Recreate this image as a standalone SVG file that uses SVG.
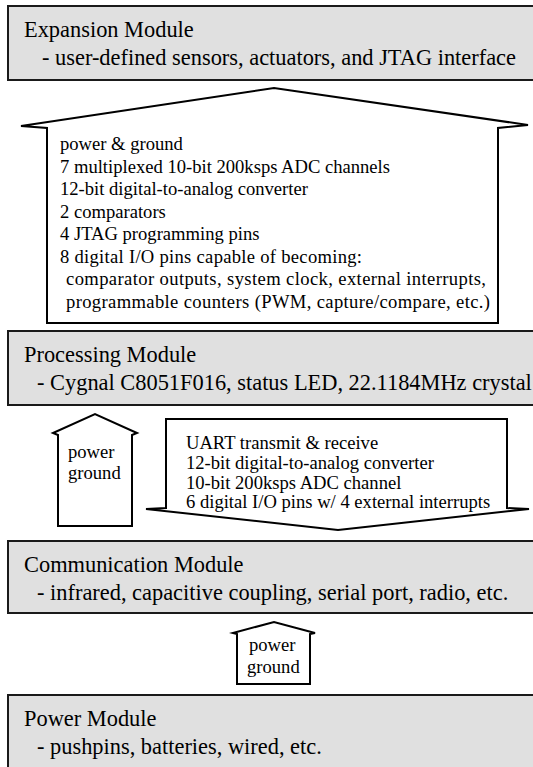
<svg xmlns="http://www.w3.org/2000/svg" width="533" height="767" viewBox="0 0 533 767">
<style>
.mod{fill:#e0e0e0;stroke:#1a1a1a;stroke-width:2}
.arr{fill:#ffffff;stroke:#000;stroke-width:2;stroke-linejoin:miter}
.mt{font-family:"Liberation Serif","Times New Roman",serif;font-size:22.4px;fill:#000}
.at{font-family:"Liberation Serif","Times New Roman",serif;font-size:18.6px;fill:#000}
</style>
<rect width="533" height="767" fill="#ffffff"/>
<g id="connectors">
<g id="bus-expansion">
<polygon class="arr" points="47,323 47,128 21,126 274,88 528,125 498,128 498,323"/>
<text class="at" x="60" y="150">power &amp; ground</text>
<text class="at" x="60" y="172.5">7 multiplexed 10-bit 200ksps ADC channels</text>
<text class="at" x="60" y="195">12-bit digital-to-analog converter</text>
<text class="at" x="60" y="217.5">2 comparators</text>
<text class="at" x="60" y="240">4 JTAG programming pins</text>
<text class="at" x="60" y="262.5" textLength="302" lengthAdjust="spacing">8 digital I/O pins capable of becoming:</text>
<text class="at" x="66" y="285" textLength="420" lengthAdjust="spacing">comparator outputs, system clock, external interrupts,</text>
<text class="at" x="66" y="307.5" textLength="424" lengthAdjust="spacing">programmable counters (PWM, capture/compare, etc.)</text>
</g>
<g id="power-to-processing">
<polygon class="arr" points="58,526 58,435 53,433 95,414 137,433 132,435 132,526"/>
<text class="at" x="68" y="458">power</text>
<text class="at" x="68" y="479">ground</text>
</g>
<g id="bus-communication">
<polygon class="arr" points="166,419 507,419 507,508 529,509 338,530 146,509 166,508"/>
<text class="at" x="186" y="449">UART transmit &amp; receive</text>
<text class="at" x="186" y="469">12-bit digital-to-analog converter</text>
<text class="at" x="186" y="488.5">10-bit 200ksps ADC channel</text>
<text class="at" x="186" y="508">6 digital I/O pins w/ 4 external interrupts</text>
</g>
<g id="power-to-communication">
<polygon class="arr" points="237,684 237,634 233,633 274,622 315,633 310,634 310,684"/>
<text class="at" x="249" y="651">power</text>
<text class="at" x="247" y="673">ground</text>
</g>
</g>
<g id="expansion-module">
<rect class="mod" x="8" y="6" width="540" height="74"/>
<text class="mt" x="24" y="37">Expansion Module</text>
<text class="mt" x="42" y="65">- user-defined sensors, actuators, and JTAG interface</text>
</g>
<g id="processing-module">
<rect class="mod" x="8" y="331" width="540" height="74"/>
<text class="mt" x="24" y="362">Processing Module</text>
<text class="mt" x="37" y="390">- Cygnal C8051F016, status LED, 22.1184MHz crystal</text>
</g>
<g id="communication-module">
<rect class="mod" x="8" y="541" width="540" height="72"/>
<text class="mt" x="24" y="572">Communication Module</text>
<text class="mt" x="37" y="600">- infrared, capacitive coupling, serial port, radio, etc.</text>
</g>
<g id="power-module">
<rect class="mod" x="8" y="695" width="540" height="80"/>
<text class="mt" x="24" y="726">Power Module</text>
<text class="mt" x="37" y="754">- pushpins, batteries, wired, etc.</text>
</g>
</svg>
